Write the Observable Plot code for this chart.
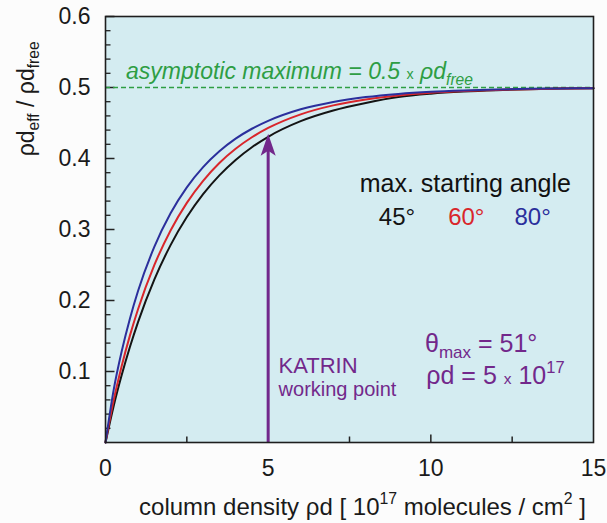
<!DOCTYPE html>
<html>
<head>
<meta charset="utf-8">
<script src="https://cdn.jsdelivr.net/npm/d3@7"></script>
<script src="https://cdn.jsdelivr.net/npm/@observablehq/plot@0.6"></script>
<style>
  html, body { margin: 0; padding: 0; background: #fcfcfc; }
  #chart svg { display: block; }
</style>
</head>
<body>
<div id="chart"></div>
<script>
// ---- data ----
const columnDensity = [0, 0.25, 0.5, 0.75, 1, 1.5, 2, 2.5, 3, 3.5, 4, 4.5, 5, 6, 7, 8, 9, 10, 11, 12, 13, 14, 15];
const angle45 = [0, 0.0512, 0.0953, 0.1345, 0.1696, 0.2294, 0.278, 0.3175, 0.3498, 0.3763, 0.398, 0.4159, 0.4306, 0.4526, 0.4676, 0.4782, 0.4865, 0.4912, 0.4942, 0.4962, 0.4975, 0.4985, 0.499];
const angle60 = [0, 0.0593, 0.1082, 0.1505, 0.1877, 0.2497, 0.2987, 0.3375, 0.3686, 0.3937, 0.4137, 0.4299, 0.443, 0.4622, 0.4748, 0.4832, 0.4888, 0.4925, 0.4949, 0.4966, 0.4977, 0.4985, 0.499];
const angle80 = [0, 0.0738, 0.1288, 0.1744, 0.2133, 0.2755, 0.3228, 0.3593, 0.3878, 0.4101, 0.4279, 0.4419, 0.453, 0.4693, 0.4797, 0.4865, 0.491, 0.494, 0.4959, 0.4972, 0.4981, 0.4987, 0.4991];
const seriesNames = ["45°", "60°", "80°"];
const seriesColors = ["#141414", "#d9262b", "#2b2f9c"];
const asymptote = 0.5;
const workingPoint = 5;
const workingPointValue = 0.435;
const xTickLabels = [0, 5, 10, 15];
const xTicksMinor = [2.5, 7.5, 12.5];
const xTicksMajor = [5, 10];
const yTickLabels = [0.1, 0.2, 0.3, 0.4, 0.5, 0.6];
const yTicksMinor = [0.02, 0.04, 0.06, 0.08, 0.12, 0.14, 0.16, 0.18, 0.22, 0.24, 0.26, 0.28,
  0.32, 0.34, 0.36, 0.38, 0.42, 0.44, 0.46, 0.48, 0.52, 0.54, 0.56, 0.58];

// ---- build table ----
const rows = [];
[angle45, angle60, angle80].forEach((vals, k) => {
  vals.forEach((v, i) => rows.push({x: columnDensity[i], y: v, series: seriesNames[k]}));
});

const W = 607, H = 523, ML = 105, MR = 14, MT = 16, MB = 81;

const purple = "#72288b";
const green = "#2e9e44";
const font = "'Liberation Sans', Arial, Helvetica, sans-serif";

const arrowHead = {
  draw(ctx) {
    ctx.moveTo(0, 0);
    ctx.lineTo(7.5, 22);
    ctx.lineTo(0, 17);
    ctx.lineTo(-7.5, 22);
    ctx.closePath();
  }
};
// inward tick symbols (drawn from the axis into the plot)
const tickRight = len => ({draw(ctx) { ctx.moveTo(0, 0); ctx.lineTo(len, 0); }});
const tickUp = len => ({draw(ctx) { ctx.moveTo(0, 0); ctx.lineTo(0, -len); }});

const plot = Plot.plot({
  width: W,
  height: H,
  marginLeft: ML,
  marginRight: MR,
  marginTop: MT,
  marginBottom: MB,
  style: {fontFamily: font, background: "#fcfcfc", color: "#1a1a1a"},
  x: {domain: [0, 15], label: null},
  y: {domain: [0, 0.6], label: null},
  color: {domain: seriesNames, range: seriesColors},
  marks: [
    Plot.frame({fill: "#d4ecf1", stroke: "none"}),
    // inward ticks
    Plot.dot(yTicksMinor, {y: d => d, frameAnchor: "left", symbol: tickRight(5), fill: "none", stroke: "#222", strokeWidth: 1.3}),
    Plot.dot(yTickLabels, {y: d => d, frameAnchor: "left", symbol: tickRight(9), fill: "none", stroke: "#222", strokeWidth: 1.5}),
    Plot.dot(xTicksMinor, {x: d => d, frameAnchor: "bottom", symbol: tickUp(6), fill: "none", stroke: "#222", strokeWidth: 1.5}),
    Plot.dot(xTicksMajor, {x: d => d, frameAnchor: "bottom", symbol: tickUp(8), fill: "none", stroke: "#222", strokeWidth: 1.5}),
    Plot.axisY({ticks: yTickLabels, tickSize: 0, tickPadding: 15, anchor: "left", fontSize: 23,
      tickFormat: d => d.toFixed(1), label: null}),
    Plot.axisX({ticks: xTickLabels, tickSize: 0, tickPadding: 17, anchor: "bottom", fontSize: 23,
      tickFormat: d => String(d), label: null}),
    // asymptote
    Plot.ruleY([asymptote], {stroke: green, strokeWidth: 1.6, strokeDasharray: "5,3"}),
    Plot.text(["asymptotic maximum = 0.5 ~{x} ρd_{free}"], {x: 0.63, y: 0.512, text: d => d,
      textAnchor: "start", lineAnchor: "bottom", fill: green, fontSize: 23, fontStyle: "italic"}),
    // curves
    Plot.line(rows, {x: "x", y: "y", z: "series", stroke: "series", strokeWidth: 2, curve: "monotone-x"}),
    // working point arrow
    Plot.ruleX([workingPoint], {y1: 0, y2: workingPointValue - 0.02, stroke: purple, strokeWidth: 3}),
    Plot.dot([workingPoint], {x: d => d, y: workingPointValue, symbol: arrowHead, fill: purple, stroke: "none"}),
    Plot.text(["KATRIN"], {x: 5.32, y: 0.098, text: d => d, textAnchor: "start", lineAnchor: "bottom",
      fill: purple, fontSize: 22}),
    Plot.text(["working point"], {x: 5.32, y: 0.066, text: d => d, textAnchor: "start", lineAnchor: "bottom",
      fill: purple, fontSize: 20}),
    Plot.text(["θ_{max} = 51°"], {x: 9.82, y: 0.128, text: d => d, textAnchor: "start", lineAnchor: "bottom",
      fill: purple, fontSize: 25}),
    Plot.text(["ρd = 5 ~{x} 10^{17}"], {x: 9.86, y: 0.083, text: d => d, textAnchor: "start", lineAnchor: "bottom",
      fill: purple, fontSize: 25}),
    // legend
    Plot.text(["max. starting angle"], {x: 11.06, y: 0.3535, text: d => d, textAnchor: "middle", lineAnchor: "bottom",
      fill: "#111", fontSize: 25}),
    Plot.text(seriesNames, {x: [8.96, 11.09, 13.13], y: 0.307, text: d => d, fill: seriesColors,
      textAnchor: "middle", lineAnchor: "bottom", fontSize: 24}),
    // axis titles
    Plot.text(["ρd_{eff} / ρd_{free}"], {frameAnchor: "left", y: 0.484, dx: -72, rotate: -90, text: d => d,
      textAnchor: "middle", lineAnchor: "bottom", fill: "#1a1a1a", fontSize: 23}),
    Plot.text(["column density ρd [ 10^{17} molecules / cm^{2} ]"], {frameAnchor: "bottom", x: 7.9, dy: 72,
      text: d => d, textAnchor: "middle", lineAnchor: "bottom", fill: "#1a1a1a", fontSize: 24}),
    // frame outline
    Plot.frame({stroke: "#1e1e1e", strokeWidth: 1.6})
  ]
});

document.getElementById("chart").appendChild(plot);

// rich text: _{sub}, ^{sup}, ~{small}
d3.select(plot).selectAll("text").each(function() {
  const el = this;
  if (el.querySelector("tspan")) return;
  const s = el.textContent;
  if (!/[_^~]\{/.test(s)) return;
  const fs = parseFloat(getComputedStyle(el).fontSize) || 20;
  el.textContent = "";
  const re = /([_^~])\{([^}]*)\}/g;
  let last = 0, m, shift = 0;
  const add = (txt, kind) => {
    const t = d3.select(el).append("tspan").text(txt);
    let target = 0, size = null;
    if (kind === "_") { target = 0.26 * fs; size = 0.68 * fs; }
    else if (kind === "^") { target = -0.42 * fs; size = 0.66 * fs; }
    else if (kind === "~") { size = 0.62 * fs; t.attr("font-style", "normal"); }
    const dy = target - shift;
    if (dy) t.attr("dy", dy);
    shift = target;
    if (size) t.attr("font-size", size);
  };
  while ((m = re.exec(s))) {
    if (m.index > last) add(s.slice(last, m.index), "");
    add(m[2], m[1]);
    last = re.lastIndex;
  }
  if (last < s.length) add(s.slice(last), "");
});
</script>
</body>
</html>
